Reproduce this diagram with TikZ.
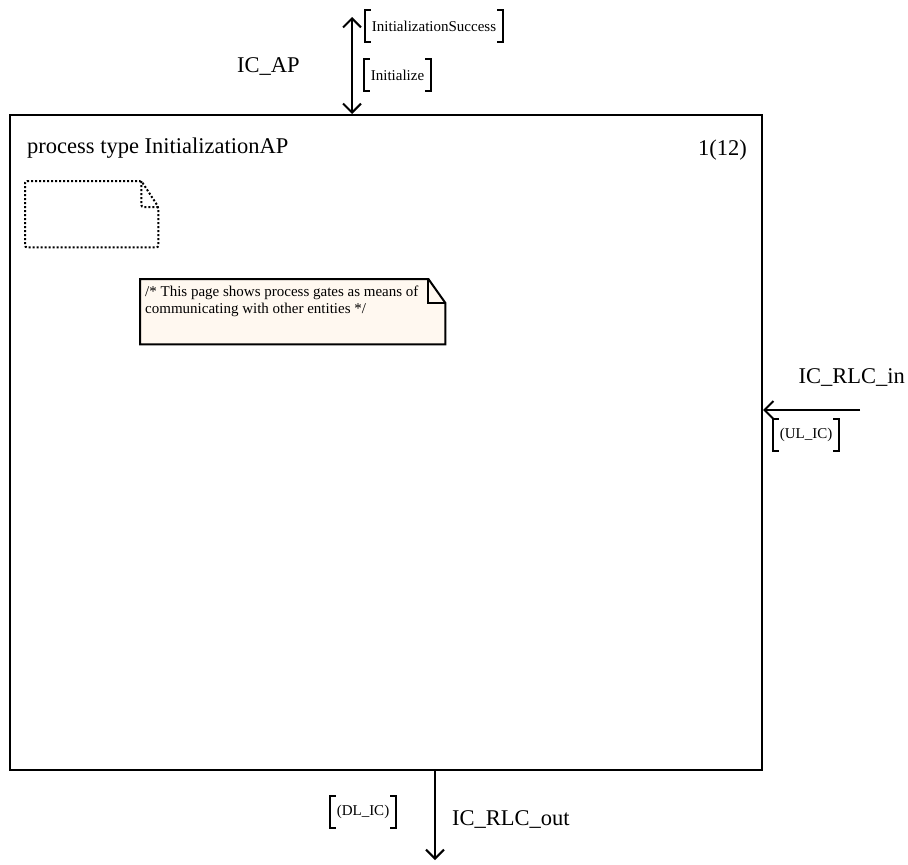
\documentclass[tikz,border=0pt]{standalone}
\usepackage{fontspec}
\setmainfont{Liberation Serif}
\usepackage{tikz}
\usetikzlibrary{positioning, arrows.meta}

\definecolor{notefill}{RGB}{255,248,240}

% square brackets round a signal list
\newcommand{\sigbrackets}[1]{%
  \draw[brk] ([xshift=6pt]#1.north west) -| (#1.south west) -- ([xshift=6pt]#1.south west);
  \draw[brk] ([xshift=-6pt]#1.north east) -| (#1.south east) -- ([xshift=-6pt]#1.south east);}

\begin{document}
\begin{tikzpicture}[
    x=1pt, y=-1pt,
    >={Straight Barb[length=9pt, width=18pt]},
    bigtxt/.style={font=\fontsize{22.5}{26}\selectfont, inner sep=0pt},
    smalltxt/.style={font=\fontsize{15}{17}\selectfont, inner sep=0pt},
    framebox/.style={draw, line width=2pt, minimum width=752pt, minimum height=655pt, inner sep=0pt},
    sig/.style={smalltxt, inner xsep=7pt, minimum height=31pt},
    brk/.style={line width=2pt},
    gate/.style={line width=2pt},
    notebox/.style={anchor=north west, inner sep=0pt, minimum width=305pt, minimum height=65pt},
    noteline/.style={draw, line width=2pt, fill=notefill},
    docbox/.style={anchor=north west, inner sep=0pt, minimum width=133pt, minimum height=66pt},
    docline/.style={line width=2pt, dash pattern=on 2pt off 2pt, rounded corners=2pt},
]
\useasboundingbox (0,0) rectangle (908,865);

% ---- Process frame ----
\node[framebox] (proc) at (386,442.5) {};
\node[bigtxt, anchor=base west] (ptype) at (27,153) {process type InitializationAP};
\node[bigtxt, anchor=base east] (pageno) at (747,155) {1(12)};

% ---- Empty text symbol ----
\node[docbox] (pagedoc) at (25,181) {};
\draw[docline] (pagedoc.north west) -- ([xshift=-17pt]pagedoc.north east)
  -- ([yshift=-26pt]pagedoc.north east) -- (pagedoc.south east)
  -- (pagedoc.south west) -- cycle;
\draw[docline] ([xshift=-17pt]pagedoc.north east) |- ([yshift=-26pt]pagedoc.north east);

% ---- Comment ----
\node[notebox] (note) at (140,279) {};
\draw[noteline] (note.north west) -- ([xshift=-17pt]note.north east)
  -- ([yshift=-24pt]note.north east) -- (note.south east)
  -- (note.south west) -- cycle;
\draw[line width=2pt] ([xshift=-17pt]note.north east) |- ([yshift=-24pt]note.north east);
\node[smalltxt, anchor=north west, align=left, font=\fontsize{15}{17}\selectfont]
  (notetxt) at (145,286) {/* This page shows process gates as means of\\communicating with other entities */};

% ---- Gate IC_AP ----
\coordinate (apend) at (352,17);
\draw[gate, <->] (apend) -- (proc.north -| apend);
\node[bigtxt, anchor=base west] (apname) at (237,72) {IC\_AP};
\node[sig] (initok) at (434,26) {InitializationSuccess};
\sigbrackets{initok}
\node[sig] (init) at (397.5,75) {Initialize};
\sigbrackets{init}

% ---- Gate IC_RLC_in ----
\coordinate (inend) at (860,410);
\draw[gate, ->] (inend) -- (inend -| proc.east);
\node[bigtxt, anchor=base east] (rlcin) at (905,383) {IC\_RLC\_in};
\node[sig] (ulic) at (806,435) {(UL\_IC)};
\sigbrackets{ulic}

% ---- Gate IC_RLC_out ----
\coordinate (outend) at (435,860);
\draw[gate, ->] (proc.south -| outend) -- (outend);
\node[bigtxt, anchor=base west] (rlcout) at (452,825) {IC\_RLC\_out};
\node[sig] (dlic) at (363,812) {(DL\_IC)};
\sigbrackets{dlic}

\end{tikzpicture}
\end{document}
